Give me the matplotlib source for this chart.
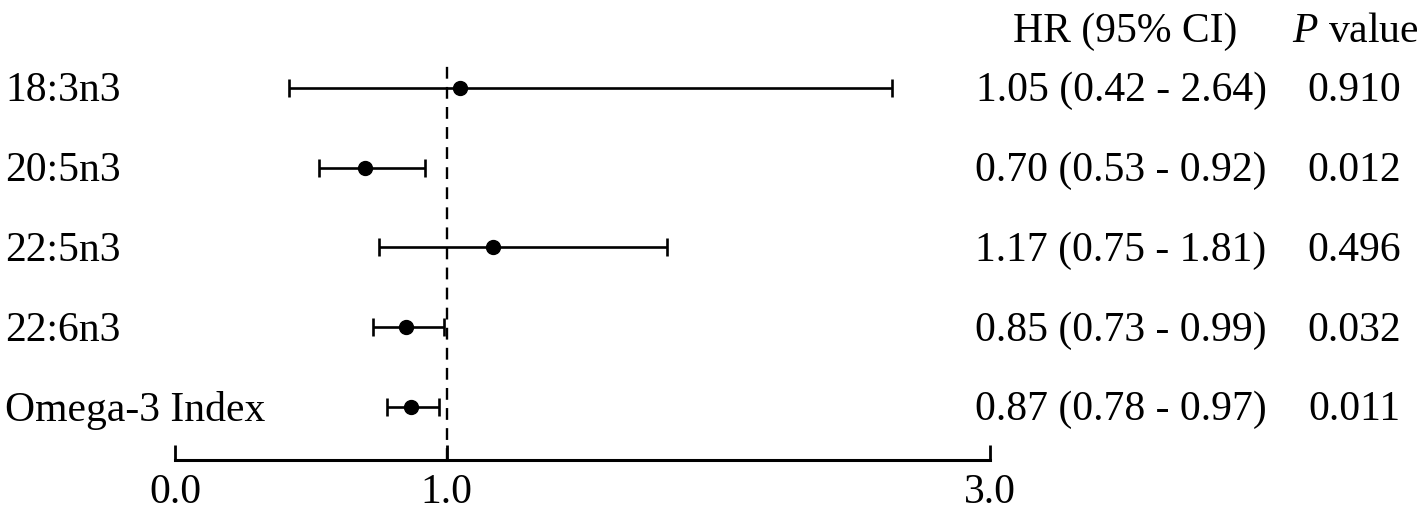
import matplotlib.pyplot as plt
import matplotlib.transforms as mtransforms

# Data
labels = ['18:3n3', '20:5n3', '22:5n3', '22:6n3', 'Omega-3 Index']
hr = [1.05, 0.70, 1.17, 0.85, 0.87]
lower = [0.42, 0.53, 0.75, 0.73, 0.78]
upper = [2.64, 0.92, 1.81, 0.99, 0.97]
pvals = ['0.910', '0.012', '0.496', '0.032', '0.011']
xticks = [0.0, 1.0, 3.0]

plt.rcParams['font.family'] = ['Liberation Serif', 'DejaVu Serif']
plt.rcParams['mathtext.fontset'] = 'custom'
plt.rcParams['mathtext.rm'] = 'Liberation Serif'
plt.rcParams['mathtext.it'] = 'Liberation Serif:italic'
fs = 30

W, H = 1425, 511
fig = plt.figure(figsize=(W / 100, H / 100), dpi=100)
ax = fig.add_axes([175 / W, 1 - 460 / H, (990 - 175) / W, (460 - 40) / H])

ys = list(range(len(labels), 0, -1))
xerr = [[h - l for h, l in zip(hr, lower)], [u - h for h, u in zip(hr, upper)]]
ax.errorbar(hr, ys, xerr=xerr, fmt='o', color='black', ecolor='black',
            elinewidth=1.9, capsize=6.5, capthick=1.9, markersize=10, zorder=3)

ax.set_xlim(0, 3)
ax.set_ylim(0.335, 5.6)
ax.vlines(1.0, 0.335, 5.35, colors='black', linestyles=(0, (5, 3.5)), linewidth=1.7)

for s in ['top', 'right', 'left']:
    ax.spines[s].set_visible(False)
ax.spines['bottom'].set_linewidth(2.2)
ax.spines['bottom'].set_bounds(0, 3)
ax.set_yticks([])
ax.set_xticks(xticks)
ax.set_xticklabels(['%.1f' % t for t in xticks], fontsize=fs)
ax.tick_params(axis='x', direction='in', length=11, width=2, pad=10)

trans = mtransforms.blended_transform_factory(fig.transFigure, ax.transData)
dy = -0.04
for y, lab, h, l, u, p in zip(ys, labels, hr, lower, upper, pvals):
    ax.text(5 / W, y + dy, lab, transform=trans, fontsize=fs, ha='left', va='center')
    ax.text(1121 / W, y + dy, '%.2f (%.2f - %.2f)' % (h, l, u), transform=trans,
            fontsize=fs, ha='center', va='center')
    ax.text(1354 / W, y + dy, p, transform=trans, fontsize=fs, ha='center', va='center')

ax.text(1125 / W, 5.7, 'HR (95% CI)', transform=trans, fontsize=fs,
        ha='center', va='center', clip_on=False)
ax.text(1355 / W, 5.7, r'$\it{P}$ value', transform=trans, fontsize=fs,
        ha='center', va='center', clip_on=False)

fig.savefig('out.png', dpi=100)
